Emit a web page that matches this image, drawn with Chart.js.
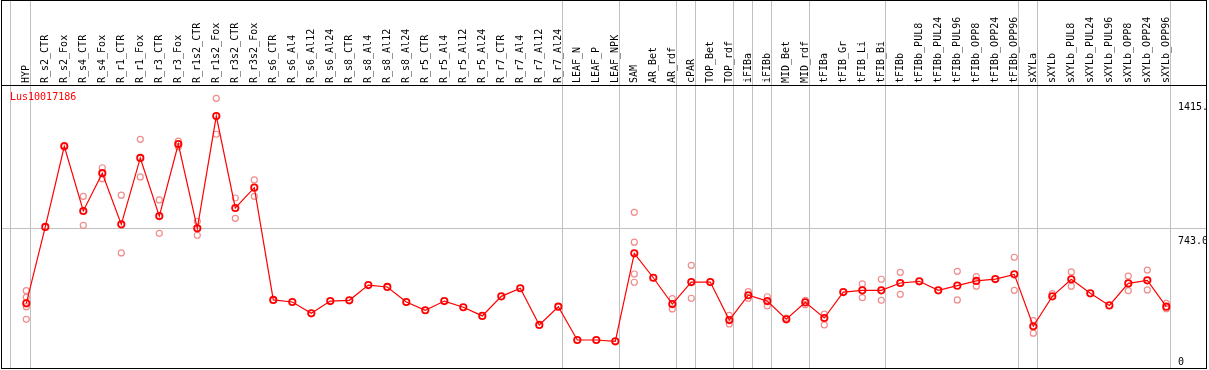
<!DOCTYPE html>
<html>
<head>
<meta charset="utf-8">
<script src="https://cdn.jsdelivr.net/npm/chart.js@4.4.1/dist/chart.umd.min.js"></script>
<style>
  html, body { margin: 0; padding: 0; background: #fff; }
  #wrap { width: 1209px; height: 370px; }
</style>
</head>
<body>
<div id="wrap"><canvas id="c" width="1209" height="370"></canvas></div>
<script>
const seriesName = 'Lus10017186';

const categories = [
  'HYP','R_s2_CTR','R_s2_Fox','R_s4_CTR','R_s4_Fox','R_r1_CTR','R_r1_Fox','R_r3_CTR','R_r3_Fox',
  'R_r1s2_CTR','R_r1s2_Fox','R_r3s2_CTR','R_r3s2_Fox','R_s6_CTR','R_s6_Al4','R_s6_Al12','R_s6_Al24',
  'R_s8_CTR','R_s8_Al4','R_s8_Al12','R_s8_Al24','R_r5_CTR','R_r5_Al4','R_r5_Al12','R_r5_Al24',
  'R_r7_CTR','R_r7_Al4','R_r7_Al12','R_r7_Al24','LEAF_N','LEAF_P','LEAF_NPK','SAM','AR_Bet','AR_rdf',
  'cPAR','TOP_Bet','TOP_rdf','iFIBa','iFIBb','MID_Bet','MID_rdf','tFIBa','tFIB_Gr','tFIB_Li','tFIB_Bi',
  'tFIBb','tFIBb_PUL8','tFIBb_PUL24','tFIBb_PUL96','tFIBb_OPP8','tFIBb_OPP24','tFIBb_OPP96',
  'sXYLa','sXYLb','sXYLb_PUL8','sXYLb_PUL24','sXYLb_PUL96','sXYLb_OPP8','sXYLb_OPP24','sXYLb_OPP96'
];

const meanValues = [
  344, 750, 1179, 835, 1036, 764, 1117, 808, 1191,
  743, 1340, 851, 959, 362, 351, 291, 356,
  360, 441, 431, 351, 307, 356, 323, 277,
  381, 424, 229, 326, 149, 149, 142, 610, 480, 340,
  457, 457, 255, 387, 356, 259, 349, 266, 404, 413, 413,
  452, 461, 413, 438, 463, 473, 498,
  222, 381, 472, 397, 333, 450, 466, 326
];

const replicateValues = [
  [411,376,326,259], [], [1184], [913,759], [1065,1007], [919,612], [1216,1016], [894,716], [1207,1177],
  [780,706], [1434,1243], [904,796], [1000,913], [], [], [], [],
  [], [], [], [], [], [], [], [],
  [], [], [], [], [], [], [], [828,669,500,456], [], [369,314],
  [546,371], [], [280,234], [406,371], [379,330], [266], [360,337], [287,229], [], [447,374], [472,360],
  [509,392], [], [], [514,362], [486,435], [], [589,413],
  [252,185], [395], [511,435], [], [], [489,411], [521,415], [344,315]
];

const yTickValues = [0, 743, 1415];
const yTickLabels = ['0', '743.0', '1415.'];
const gridValues = [743];
// indices of the last category in each group (separator drawn after them)
const groupEnds = [-1, 0, 28, 31, 34, 35, 37, 38, 39, 41, 45, 52, 53, 60];

const FONT = '10px "DejaVu Sans Mono", "Liberation Mono", monospace';
const tickLabelShift = { 0: -6, 743: 13, 1415: 5 };

const replicatePoints = [];
replicateValues.forEach((arr, i) => arr.forEach(v => replicatePoints.push({ x: categories[i], y: v })));

const decor = {
  id: 'decor',
  beforeDraw(chart) {
    const ctx = chart.ctx;
    ctx.save();
    ctx.fillStyle = '#fff';
    ctx.fillRect(0, 0, chart.width, chart.height);
    ctx.restore();
  },
  beforeDatasetsDraw(chart) {
    const ctx = chart.ctx, xs = chart.scales.x, ys = chart.scales.y;
    ctx.save();
    ctx.strokeStyle = '#c0c0c0';
    ctx.lineWidth = 1;
    groupEnds.forEach(i => {
      let x = Math.round(xs.getPixelForValue(i) + 4) + 0.5;
      if (i < 0) x = 10.5;
      ctx.beginPath(); ctx.moveTo(x, 1); ctx.lineTo(x, 368); ctx.stroke();
    });
    gridValues.forEach(v => {
      const y = Math.round(ys.getPixelForValue(v)) + 0.5;
      ctx.beginPath(); ctx.moveTo(2, y); ctx.lineTo(1206, y); ctx.stroke();
    });
    // header labels
    ctx.fillStyle = '#000';
    ctx.font = FONT;
    ctx.textAlign = 'left';
    ctx.textBaseline = 'middle';
    categories.forEach((c, i) => {
      const x = xs.getPixelForValue(i);
      ctx.save();
      ctx.translate(x, 83);
      ctx.rotate(-Math.PI / 2);
      ctx.fillText(c, 0, 0);
      ctx.restore();
    });
    // series name
    ctx.fillStyle = '#ff0000';
    ctx.fillText(seriesName, 10, 97);
    // tick labels
    ctx.fillStyle = '#000';
    ctx.beginPath(); ctx.rect(0, 0, 1206, 370); ctx.clip();
    yTickValues.forEach((v, k) => {
      ctx.fillText(yTickLabels[k], 1178, ys.getPixelForValue(v) + tickLabelShift[v]);
    });
    ctx.restore();
  },
  afterDraw(chart) {
    const ctx = chart.ctx;
    ctx.save();
    ctx.strokeStyle = '#000';
    ctx.lineWidth = 1;
    ctx.strokeRect(1.5, 0.5, 1205, 368);
    ctx.beginPath(); ctx.moveTo(1, 85.5); ctx.lineTo(1207, 85.5); ctx.stroke();
    ctx.restore();
  }
};

new Chart(document.getElementById('c'), {
  type: 'line',
  data: {
    labels: categories,
    datasets: [
      {
        label: seriesName,
        data: meanValues,
        borderColor: '#ff0000',
        borderWidth: 1.2,
        pointRadius: 3.2,
        pointBorderWidth: 1.8,
        pointBorderColor: '#ff0000',
        pointBackgroundColor: 'rgba(255,255,255,0)',
        tension: 0,
        fill: false,
        order: 1
      },
      {
        label: 'replicates',
        data: replicatePoints,
        showLine: false,
        pointRadius: 3,
        pointBorderWidth: 1.2,
        pointBorderColor: '#f08c8c',
        pointBackgroundColor: 'rgba(255,255,255,0)',
        order: 2
      }
    ]
  },
  options: {
    responsive: false,
    animation: false,
    devicePixelRatio: 1,
    layout: { autoPadding: false, padding: { left: 16.8, right: 33.2, top: 85, bottom: 2 } },
    plugins: { legend: { display: false }, tooltip: { enabled: false } },
    scales: {
      x: { type: 'category', offset: true, display: false },
      y: { type: 'linear', min: 0, max: 1505, display: false }
    },
    clip: false
  },
  plugins: [decor]
});
</script>
</body>
</html>
